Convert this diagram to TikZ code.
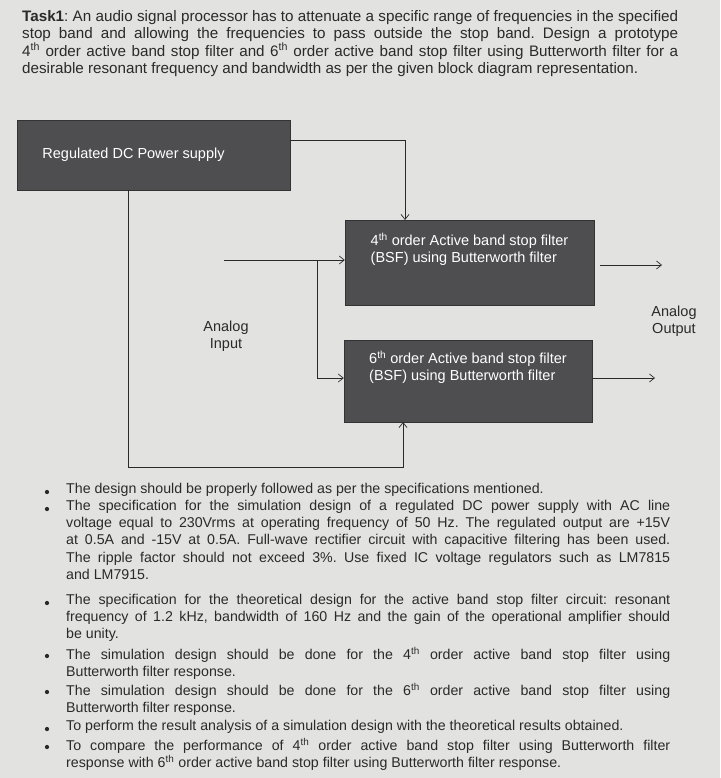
\documentclass[tikz,border=0pt]{standalone}
\usepackage{fontspec}
\setmainfont{Liberation Sans}
\usetikzlibrary{arrows.meta}
\definecolor{paper}{HTML}{E2E2E0}
\definecolor{boxc}{HTML}{4E4E50}
\definecolor{ink}{HTML}{2A2A2A}
\frenchspacing
\begin{document}
\begin{tikzpicture}[x=1pt,y=-1pt,
  blk/.style={draw=black!80,fill=boxc,text=white,font=\fontsize{14.5}{17}\selectfont,align=left,inner sep=0pt},
  conn/.style={draw=ink,line width=0.7pt},
  arr/.style={conn,-{Straight Barb[length=5pt,width=8pt]}},
  lbl/.style={text=ink,font=\fontsize{14.5}{17}\selectfont,align=center},
  para/.style={text=ink,anchor=north west,inner sep=0pt,text width=604pt,align=justify,font=\fontsize{14.2}{17.2}\selectfont},
  dot/.style={circle,fill=ink,inner sep=1.5pt}]
\fill[paper] (0,0) rectangle (720,778);
\useasboundingbox (0,0) rectangle (720,778);
\node[anchor=north west,inner sep=0pt,text width=656pt,align=justify,text=ink,font=\fontsize{15.2}{17.5}\selectfont] (hdr) at (22,10)
 {\textbf{Task1}: An audio signal processor has to attenuate a specific range of frequencies in the specified\linebreak stop band and allowing the frequencies to pass outside the stop band. Design a prototype\linebreak 4\textsuperscript{th} order active band stop filter and 6\textsuperscript{th} order active band stop filter using Butterworth filter for a\linebreak desirable resonant frequency and bandwidth as per the given block diagram representation.};
% blocks
\node[blk,minimum width=273pt,minimum height=70pt] (dc) at (153.5,155) {\hspace*{-40pt}Regulated DC Power supply};
\node[blk,minimum width=249pt,minimum height=85pt,text depth=30pt] (f4) at (469.5,262.5) {4\textsuperscript{th} order Active band stop filter\\(BSF) using Butterworth filter};
\node[blk,minimum width=248pt,minimum height=82pt,text depth=30pt] (f6) at (468,381) {6\textsuperscript{th} order Active band stop filter\\(BSF) using Butterworth filter};
\node[lbl] (ain) at (226,336) {Analog\\Input};
\node[lbl] (aout) at (674,321) {Analog\\Output};
\coordinate (inS) at (224,260);
\coordinate (br) at (317,260);
\coordinate (o4) at (662,265);
\coordinate (o6) at (655,378);
% connectors
\draw[arr] (dc.east |- 0,140) -| (405,220);
\draw[arr] (128,190) -- (128,467) -| (403,422);
\draw[arr] (inS) -- (f4.west |- inS);
\draw[arr] (br) |- (f6.west |- 0,378);
\draw[arr] (600,265) -- (o4);
\draw[arr] (f6.east |- o6) -- (o6);
% bullets
\foreach \y in {492,509,603,656,692,729,747} \node[dot] at (47,\y) {};
\node[para] (b1) at (66,483) {The design should be properly followed as per the specifications mentioned.};
\node[para] (b2) at (66,500) {The specification for the simulation design of a regulated DC power supply with AC line\linebreak voltage equal to 230Vrms at operating frequency of 50 Hz. The regulated output are +15V\linebreak at 0.5A and -15V at 0.5A. Full-wave rectifier circuit with capacitive filtering has been used.\linebreak The ripple factor should not exceed 3\%. Use fixed IC voltage regulators such as LM7815\linebreak and LM7915.};
\node[para] (b3) at (66,594) {The specification for the theoretical design for the active band stop filter circuit: resonant\linebreak frequency of 1.2 kHz, bandwidth of 160 Hz and the gain of the operational amplifier should\linebreak be unity.};
\node[para] (b4) at (66,647) {The simulation design should be done for the 4\textsuperscript{th} order active band stop filter using\linebreak Butterworth filter response.};
\node[para] (b5) at (66,683) {The simulation design should be done for the 6\textsuperscript{th} order active band stop filter using\linebreak Butterworth filter response.};
\node[para] (b6) at (66,720) {To perform the result analysis of a simulation design with the theoretical results obtained.};
\node[para] (b7) at (66,738) {To compare the performance of 4\textsuperscript{th} order active band stop filter using Butterworth filter\linebreak response with 6\textsuperscript{th} order active band stop filter using Butterworth filter response.};
\end{tikzpicture}
\end{document}
